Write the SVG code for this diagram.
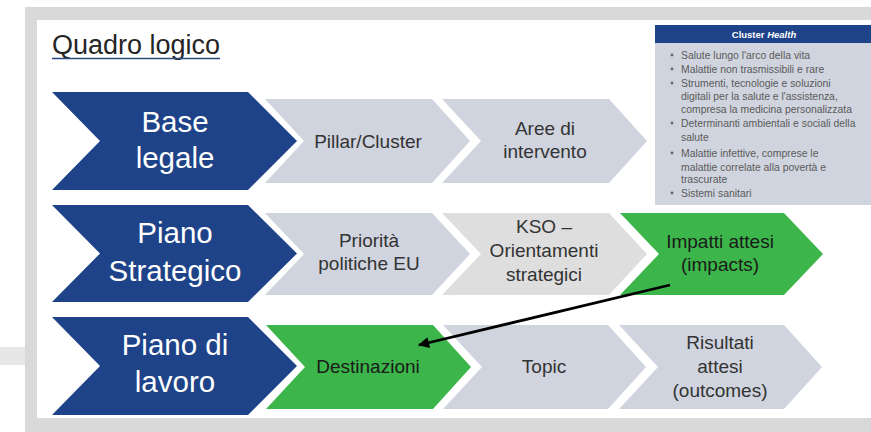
<svg xmlns="http://www.w3.org/2000/svg" width="871" height="432" viewBox="0 0 871 432">
<style>
.frame{fill:#d9d9d9}
.blue{fill:#1e4388}
.gray{fill:#d0d4de}
.lgray{fill:#dedede}
.green{fill:#3cb64a}
text{font-family:"Liberation Sans",Arial,sans-serif}
.bt{font-size:29.5px;fill:#ffffff;text-anchor:middle}
.gt{font-size:19px;fill:#333333;text-anchor:middle}
.grt{font-size:19px;fill:#1a1a1a;text-anchor:middle}
.ct{font-size:10.4px;fill:#5a5a5a}
.bul{fill:#666666}
</style>
<defs>
<marker id="ah" viewBox="0 0 10 10" refX="9" refY="5" markerWidth="5" markerHeight="4" orient="auto" markerUnits="strokeWidth">
<path d="M0,0 L10,5 L0,10 Z" fill="#000000"/>
</marker>
</defs>
<rect x="0" y="0" width="871" height="432" fill="#ffffff"/>
<rect x="0" y="347" width="26" height="18" fill="#e6e6e6"/>
<rect class="frame" x="25" y="7" width="846" height="425"/>
<rect x="37" y="20" width="834" height="398" fill="#ffffff"/>

<g id="title">
<text x="52" y="54" style="font-size:27px;fill:#262626">Quadro logico</text>
<line x1="52" y1="58.5" x2="220" y2="58.5" stroke="#2a4a80" stroke-width="1.5"/>
</g>

<g id="cluster-health">
<rect class="gray" x="655" y="25" width="216" height="180"/>
<rect class="blue" x="655" y="25" width="216" height="18"/>
<text x="764" y="37.5" style="font-size:9.5px;font-weight:bold;fill:#ffffff;text-anchor:middle">Cluster <tspan font-style="italic">Health</tspan></text>
<circle class="bul" cx="672" cy="55" r="1.4"/>
<circle class="bul" cx="672" cy="69" r="1.4"/>
<circle class="bul" cx="672" cy="83" r="1.4"/>
<circle class="bul" cx="672" cy="123" r="1.4"/>
<circle class="bul" cx="672" cy="153" r="1.4"/>
<circle class="bul" cx="672" cy="193" r="1.4"/>
<text class="ct" x="681" y="58.5">Salute lungo l'arco della vita</text>
<text class="ct" x="681" y="72.5">Malattie non trasmissibili e rare</text>
<text class="ct" x="681" y="86.5">Strumenti, tecnologie e soluzioni</text>
<text class="ct" x="681" y="99.5">digitali per la salute e l'assistenza,</text>
<text class="ct" x="681" y="112.5">compresa la medicina personalizzata</text>
<text class="ct" x="681" y="126.5">Determinanti ambientali e sociali della</text>
<text class="ct" x="681" y="140.5">salute</text>
<text class="ct" x="681" y="156.5">Malattie infettive, comprese le</text>
<text class="ct" x="681" y="170.5">malattie correlate alla povertà e</text>
<text class="ct" x="681" y="182.5">trascurate</text>
<text class="ct" x="681" y="196.5">Sistemi sanitari</text>
</g>

<g id="base-legale">
<path class="blue" d="M52,92 L248,92 L297,141 L248,190 L52,190 L100,141 Z"/>
<text class="bt" x="175" y="132">Base</text>
<text class="bt" x="175" y="168">legale</text>
</g>
<g id="pillar-cluster">
<path class="gray" d="M265,99 L432,99 L470,141 L432,183 L265,183 L304,141 Z"/>
<text class="gt" x="368" y="148">Pillar/Cluster</text>
</g>
<g id="aree-intervento">
<path class="gray" d="M442,99 L609,99 L647,141 L609,183 L442,183 L481,141 Z"/>
<text class="gt" x="545" y="135">Aree di</text>
<text class="gt" x="545" y="158">intervento</text>
</g>

<g id="piano-strategico">
<path class="blue" d="M52,205 L248,205 L297,253.5 L248,302 L52,302 L100,253.5 Z"/>
<text class="bt" x="175" y="243">Piano</text>
<text class="bt" x="175" y="281">Strategico</text>
</g>
<g id="priorita">
<path class="gray" d="M265,213 L432,213 L470,254 L432,295 L265,295 L304,254 Z"/>
<text class="gt" x="369" y="247">Priorità</text>
<text class="gt" x="369" y="270">politiche EU</text>
</g>
<g id="kso">
<path class="lgray" d="M442,213 L609,213 L647,254 L609,295 L442,295 L481,254 Z"/>
<text class="gt" x="544" y="233">KSO –</text>
<text class="gt" x="544" y="257">Orientamenti</text>
<text class="gt" x="544" y="281">strategici</text>
</g>
<g id="impatti">
<path class="green" d="M620,213 L784,213 L823,254 L784,295 L620,295 L659,254 Z"/>
<text class="grt" x="720" y="248">Impatti attesi</text>
<text class="grt" x="720" y="271">(impacts)</text>
</g>

<g id="piano-lavoro">
<path class="blue" d="M52,317 L248,317 L297,366 L248,415 L52,415 L100,366 Z"/>
<text class="bt" x="175" y="355">Piano di</text>
<text class="bt" x="175" y="392">lavoro</text>
</g>
<g id="destinazioni">
<path class="green" d="M266,325 L433,325 L471,367 L433,409 L266,409 L305,367 Z"/>
<text class="grt" x="368" y="373">Destinazioni</text>
</g>
<g id="topic">
<path class="gray" d="M443,325 L608,325 L646,367 L608,409 L443,409 L482,367 Z"/>
<text class="gt" x="544" y="373">Topic</text>
</g>
<g id="risultati">
<path class="gray" d="M619,325 L784,325 L822,367 L784,409 L619,409 L658,367 Z"/>
<text class="gt" x="720" y="349">Risultati</text>
<text class="gt" x="720" y="373">attesi</text>
<text class="gt" x="720" y="397">(outcomes)</text>
</g>

<g id="connectors">
<line x1="670" y1="285" x2="419" y2="345" stroke="#000000" stroke-width="2.8" marker-end="url(#ah)"/>
</g>
</svg>
